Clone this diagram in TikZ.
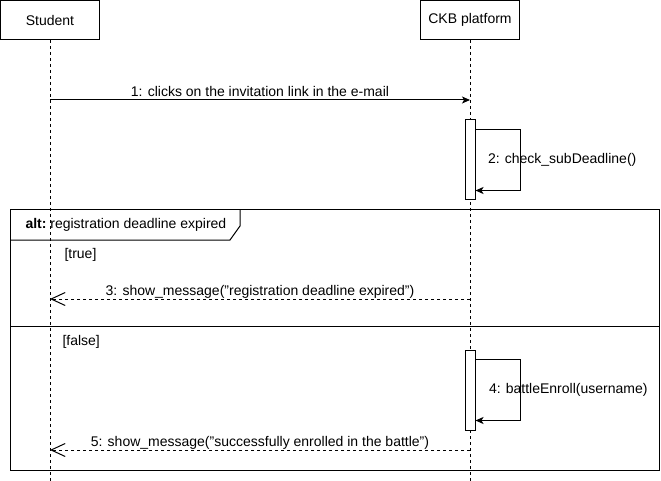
\documentclass[tikz,border=0pt]{standalone}
\usepackage{fontspec}
\setmainfont{Liberation Sans}
\usetikzlibrary{arrows.meta,calc}

\begin{document}
\begin{tikzpicture}[x=1pt, y=-1pt, line width=1pt,
    font=\fontsize{14}{16}\selectfont,
    participant/.style={draw, minimum width=99pt, minimum height=39pt, inner sep=0pt},
    lifeline/.style={dash pattern=on 3pt off 3pt},
    activation/.style={draw, fill=white, minimum width=10pt, minimum height=80pt, inner sep=0pt},
    call/.style={-{Stealth[length=8pt, width=7pt, inset=2pt]}},
    reply/.style={dash pattern=on 3pt off 3pt, -{Straight Barb[length=14pt, width=13pt]}},
    msglabel/.style={midway, anchor=base, yshift=3.5pt, inner sep=0pt},
    guard/.style={anchor=west, inner sep=0pt}]
    \useasboundingbox (0,0) rectangle (661,481);

    % variables
    \def\studentX{50}
    \def\platformX{470}
    \def\lifeEnd{481}

    % Participants
    \node[participant] (student) at (\studentX,20) {Student};
    \node[participant] (platform) at (\platformX,20) {CKB platform};

    % Lifelines
    \coordinate (studentEnd) at (\studentX,\lifeEnd);
    \coordinate (platformEnd) at (\platformX,\lifeEnd);
    \draw[lifeline] (student) -- (studentEnd);
    \draw[lifeline] (platform) -- (platformEnd);

    % alt frame
    \draw (10,210) rectangle (659,470);
    \draw (10,240) -- (230,240) -- (240,226) -- (240,210);
    \node[guard] (altLabel) at (25,225) {\textbf{alt:}\ registration deadline expired};
    \draw (10,326) -- (659,326);
    \node[guard] (guardTrue) at (64,255) {[true]};
    \node[guard] (guardFalse) at (62,342) {[false]};

    % Activations
    \node[activation] (act1) at (\platformX,160) {};
    \node[activation] (act2) at (\platformX,390) {};

    % Messages
        % 1
        \coordinate (m1a) at (\studentX,100);
        \coordinate (m1b) at (\platformX,100);
        \draw[call] (m1a) -- (m1b) node[msglabel] (lbl1) {1: clicks on the invitation link in the e-mail};

        % 2
        \draw[call] ($(act1.north east)+(0,10)$) -- ++(45,0) |- ($(act1.south east)+(0,-10)$);
        \node[anchor=west, inner sep=0pt] (lbl2) at ($(act1.east)+(12,0)$) {2: check\_subDeadline()};

        % 3
        \coordinate (m3a) at (\platformX,299);
        \coordinate (m3b) at (\studentX,299);
        \draw[reply] (m3a) -- (m3b) node[msglabel] (lbl3) {3: show\_message("registration deadline expired")};

        % 4
        \draw[call] ($(act2.north east)+(0,10)$) -- ++(45,0) |- ($(act2.south east)+(0,-10)$);
        \node[anchor=west, inner sep=0pt] (lbl4) at ($(act2.east)+(13,0)$) {4: battleEnroll(username)};

        % 5
        \coordinate (m5a) at (\platformX,450);
        \coordinate (m5b) at (\studentX,450);
        \draw[reply] (m5a) -- (m5b) node[msglabel] (lbl5) {5: show\_message("successfully enrolled in the battle")};
\end{tikzpicture}
\end{document}
